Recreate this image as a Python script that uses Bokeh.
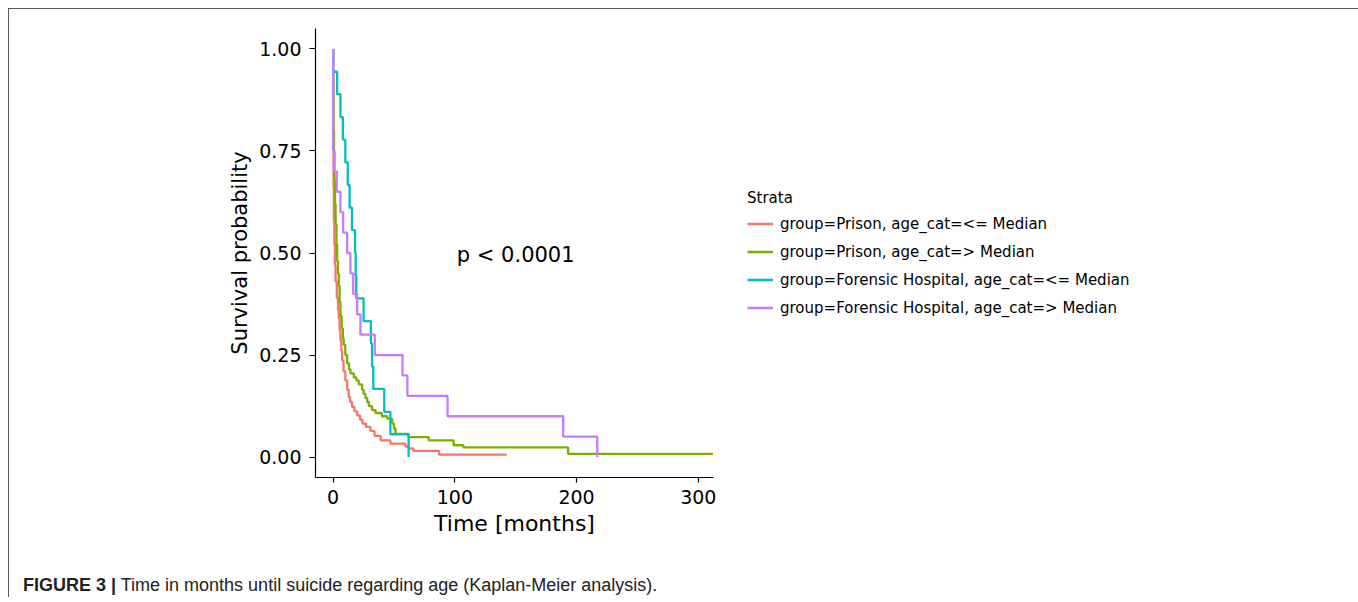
from bokeh.plotting import figure
from bokeh.layouts import column
from bokeh.models import Legend, LegendItem, Label, FixedTicker, Div
from bokeh.embed import file_html
from bokeh.resources import INLINE

# ---------------- data ----------------
x_ticks = [0, 100, 200, 300]
y_ticks = [0.0, 0.25, 0.5, 0.75, 1.0]
y_tick_labels = ["0.00", "0.25", "0.50", "0.75", "1.00"]

strata = [
    "group=Prison, age_cat=<= Median",
    "group=Prison, age_cat=> Median",
    "group=Forensic Hospital, age_cat=<= Median",
    "group=Forensic Hospital, age_cat=> Median",
]
colors = ["#F8766D", "#7CAE00", "#00BFC4", "#C77CFF"]

prison_le_time = [0, 0, 0.3, 0.6, 1.0, 1.5, 2.0, 3.0, 4.0, 4.6, 5.3, 6.0, 6.7, 7.4, 8.5, 10.0,
                  11.5, 12.8, 14.0, 15.6, 17.5, 19.7, 22.0, 24.0, 27.0, 30.6, 34.0, 39.0,
                  47.0, 59.4, 62.0, 66.0, 87.0, 142.5]
prison_le_surv = [1.0, 0.78, 0.66, 0.58, 0.52, 0.47, 0.43, 0.39, 0.36, 0.34, 0.31, 0.286, 0.26,
                  0.237, 0.21, 0.188, 0.165, 0.147, 0.135, 0.123, 0.112, 0.102, 0.092, 0.082,
                  0.074, 0.064, 0.052, 0.041, 0.033, 0.026, 0.021, 0.015, 0.006, 0.006]

prison_gt_time = [0, 0, 0.2, 0.4, 0.7, 1.0, 1.5, 2.0, 2.7, 3.3, 4.0, 4.6, 5.3, 6.0, 7.0, 8.0,
                  8.7, 10.0, 11.5, 13.0, 14.2, 17.0, 19.0, 21.0, 23.8, 25.0, 26.5, 28.0, 29.3,
                  32.0, 34.8, 40.0, 44.4, 48.5, 50.0, 51.2, 62.0, 78.5, 99.0, 107.0, 193.0, 312.0]
prison_gt_surv = [1.0, 0.95, 0.88, 0.80, 0.75, 0.68, 0.62, 0.57, 0.52, 0.48, 0.45, 0.42, 0.38,
                  0.345, 0.315, 0.29, 0.275, 0.25, 0.23, 0.215, 0.205, 0.195, 0.188, 0.178,
                  0.165, 0.155, 0.145, 0.135, 0.125, 0.115, 0.108, 0.100, 0.094, 0.082, 0.07,
                  0.057, 0.049, 0.041, 0.029, 0.024, 0.008, 0.008]

forensic_le_time = [0, 0, 3.3, 6, 8, 10, 12, 13.5, 15.5, 18, 18.5, 19, 25, 31, 32, 33, 42, 47, 62]
forensic_le_surv = [1.0, 0.944, 0.889, 0.833, 0.778, 0.722, 0.667, 0.611, 0.556, 0.5, 0.444,
                    0.389, 0.333, 0.278, 0.222, 0.167, 0.111, 0.056, 0.0]

forensic_gt_time = [0, 0, 1, 3, 6, 8.2, 11.5, 14.2, 16.5, 19.7, 22.4, 34.2, 57, 61, 94, 189, 217]
forensic_gt_surv = [1.0, 0.75, 0.70, 0.65, 0.60, 0.55, 0.50, 0.45, 0.40, 0.35, 0.30, 0.25,
                    0.20, 0.15, 0.10, 0.05, 0.0]

series = [
    (prison_le_time, prison_le_surv),
    (prison_gt_time, prison_gt_surv),
    (forensic_le_time, forensic_le_surv),
    (forensic_gt_time, forensic_gt_surv),
]

p_value_text = "p < 0.0001"
caption_bold = "FIGURE 3 |"
caption_text = "Time in months until suicide regarding age (Kaplan-Meier analysis)."

# ---------------- chart figure ----------------
FONT = "DejaVu Sans"

p = figure(
    frame_width=398, frame_height=449,
    min_border_left=306, min_border_right=636,
    min_border_top=19, min_border_bottom=70,
    x_range=(-14.5, 312.5), y_range=(-0.05, 1.05),
    output_backend="svg", toolbar_location=None,
)
p.outline_line_color = None
p.xgrid.visible = False
p.ygrid.visible = False
p.background_fill_color = "white"
p.border_fill_color = "white"

renderers = []
for (t, s), c in zip(series, colors):
    r = p.step(t, s, mode="after", line_color=c, line_width=2.3)
    renderers.append(r)

for ax in (p.xaxis[0], p.yaxis[0]):
    ax.axis_line_color = "black"
    ax.axis_line_width = 1.2
    ax.major_tick_line_color = "black"
    ax.major_tick_line_width = 1.2
    ax.minor_tick_line_color = None
    ax.major_tick_in = 0
    ax.major_label_text_font = FONT
    ax.major_label_text_font_size = "19px"
    ax.major_label_text_color = "black"
    ax.axis_label_text_font = FONT
    ax.axis_label_text_font_style = "normal"
    ax.axis_label_text_color = "black"

p.xaxis[0].ticker = FixedTicker(ticks=x_ticks)
p.xaxis[0].major_tick_out = 5
p.xaxis[0].major_label_standoff = 7
p.xaxis[0].axis_label = "Time [months]"
p.xaxis[0].axis_label_text_font_size = "22px"
p.xaxis[0].axis_label_standoff = 4

p.yaxis[0].ticker = FixedTicker(ticks=y_ticks)
p.yaxis[0].major_label_overrides = {v: l for v, l in zip(y_ticks, y_tick_labels)}
p.yaxis[0].major_tick_out = 6
p.yaxis[0].major_label_standoff = 8
p.yaxis[0].axis_label = "Survival probability"
p.yaxis[0].axis_label_text_font_size = "21px"
p.yaxis[0].axis_label_standoff = 4

p.add_layout(Label(x=150, y=0.495, text=p_value_text, text_font=FONT,
                   text_font_size="21px", text_align="center", text_baseline="middle",
                   text_color="black"))

legend = Legend(
    items=[LegendItem(label=lab, renderers=[r]) for lab, r in zip(strata, renderers)],
    location="left",
    title="Strata",
    title_text_font=FONT, title_text_font_size="15px", title_text_font_style="normal",
    title_text_color="black", title_standoff=7,
    label_text_font=FONT, label_text_font_size="15px", label_text_color="black",
    glyph_width=26, glyph_height=20, label_height=20, label_standoff=7, spacing=8,
    padding=0, margin=34, border_line_color=None, background_fill_alpha=0,
)
p.add_layout(legend, "right")

# ---------------- caption ----------------
cap_html = (
    '<div style="margin:27px 0 0 14px; font-family:\'Liberation Sans\', Arial, sans-serif; '
    'font-size:18px; line-height:22px; color:#222222; white-space:nowrap;">'
    f'<b>{caption_bold}</b> {caption_text}</div>'
)
cap = Div(text=cap_html, width=1340, height=50, margin=0)

layout = column(p, cap, spacing=0)
layout.margin = (8, 0, 0, 8)
layout.styles = {"border-left": "1px solid #5a5a5a", "border-top": "1px solid #5a5a5a",
                 "border-right": "1px solid #5a5a5a"}

open("out.html", "w").write(file_html(layout, INLINE))
